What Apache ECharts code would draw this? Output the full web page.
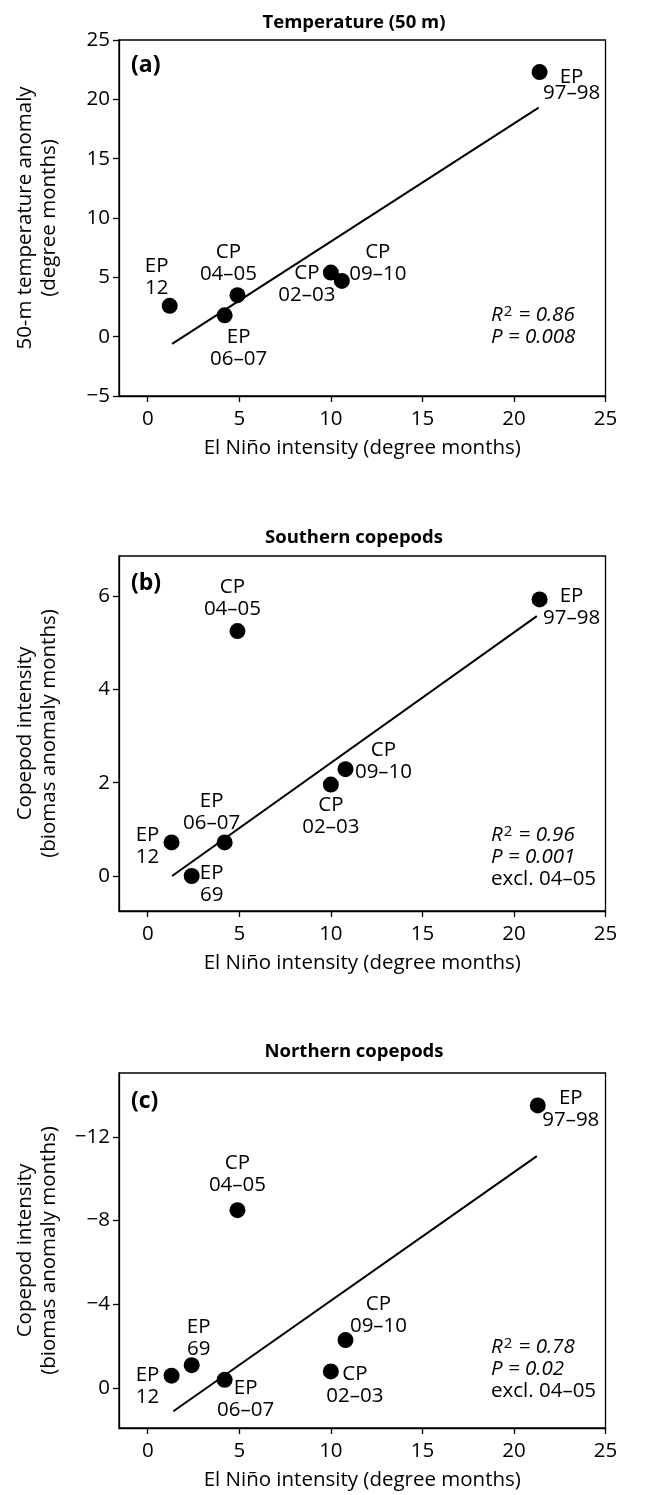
<!DOCTYPE html>
<html>
<head>
<meta charset="utf-8">
<script src="https://cdn.jsdelivr.net/npm/echarts@6/dist/echarts.min.js"></script>
<style>
html,body{margin:0;padding:0;background:#fff;}
#chart{width:646px;height:1495px;}
</style>
</head>
<body>
<div id="chart"></div>
<script>
// ---------- data ----------
const xTickValues = [0, 5, 10, 15, 20, 25];
const yTicksA = [-5, 0, 5, 10, 15, 20, 25];
const yTicksB = [0, 2, 4, 6];
const yTicksC = [-12, -8, -4, 0];

const labelsA = ['EP\n12', 'CP\n04–05', 'EP\n06–07', 'CP\n02–03', 'CP\n09–10', 'EP\n97–98'];
const xA = [1.2, 4.9, 4.2, 10.0, 10.6, 21.4];
const yA = [2.6, 3.5, 1.8, 5.4, 4.7, 22.3];
const fitXA = [1.33, 21.35];
const fitYA = [-0.6, 19.3];

const labelsB = ['EP\n12', 'EP\n69', 'EP\n06–07', 'CP\n04–05', 'CP\n02–03', 'CP\n09–10', 'EP\n97–98'];
const xB = [1.3, 2.4, 4.2, 4.9, 10.0, 10.8, 21.4];
const yB = [0.72, 0.0, 0.72, 5.25, 1.96, 2.29, 5.93];
const fitXB = [1.33, 21.25];
const fitYB = [0.0, 5.57];

const labelsC = ['EP\n12', 'EP\n69', 'EP\n06–07', 'CP\n04–05', 'CP\n02–03', 'CP\n09–10', 'EP\n97–98'];
const xC = [1.3, 2.4, 4.2, 4.9, 10.0, 10.8, 21.3];
const yC = [-0.6, -1.1, -0.4, -8.5, -0.8, -2.3, -13.5];
const fitXC = [1.4, 21.25];
const fitYC = [1.1, -11.08];

const titles = ['Temperature (50 m)', 'Southern copepods', 'Northern copepods'];
const panelTags = ['(a)', '(b)', '(c)'];
const yNames = ['50-m temperature anomaly\n(degree months)', 'Copepod intensity\n(biomas anomaly months)', 'Copepod intensity\n(biomas anomaly months)'];
const xName = 'El Niño intensity (degree months)';
const statsA = ['0.86', '0.008'];
const statsB = ['0.96', '0.001'];
const statsC = ['0.78', '0.02'];
const exclNote = 'excl. 04–05';

// ---------- layout / styling (not data) ----------
const FONT = '"Open Sans", "Noto Sans", sans-serif';
const FS = 20.5;
const offA = [[-13, -29], [-9, -32], [14, 33], [-24, 12], [36, -18], [32, 13]];
const lhA = [22, 22, 22, 22, 22, 16];
const offB = [[-24, 4], [20, 8], [-13, -30], [-5, -33], [0, 32], [38, -8], [32, 8]];
const offC = [[-24, 11], [7, -27], [21, 19], [0, -36], [24, 14], [33, -25], [33, 4]];
const grids = [
  {left: 119, top: 40, width: 486.5, height: 356},
  {left: 119, top: 556, width: 486.5, height: 355},
  {left: 119, top: 1073, width: 486.5, height: 355}
];
const yRanges = [
  {min: -5, max: 25, inverse: false, ticks: yTicksA},
  {min: -0.75, max: 6.86, inverse: false, ticks: yTicksB},
  {min: -15.05, max: 1.9, inverse: true, ticks: yTicksC}
];

const minus = v => String(v).replace('-', '\u2212');

const option = {
  animation: false,
  backgroundColor: '#fff',
  textStyle: {fontFamily: FONT, color: '#000'},
  grid: grids.map(g => Object.assign({show: true, borderColor: '#000', borderWidth: 1.3, backgroundColor: 'transparent', outerBoundsMode: 'none', containLabel: false}, g)),
  xAxis: grids.map((g, i) => ({
    type: 'value', gridIndex: i, min: -1.57, max: 25,
    name: xName, nameLocation: 'middle', nameGap: 42,
    nameTextStyle: {fontSize: FS, color: '#000', fontFamily: FONT},
    axisLine: {show: true, onZero: false, lineStyle: {color: '#000', width: 1.3}},
    axisTick: {show: true, length: 6, customValues: xTickValues, lineStyle: {color: '#000', width: 1.3}},
    axisLabel: {customValues: xTickValues, fontSize: FS, color: '#000', margin: 13, fontFamily: FONT, formatter: v => minus(v)},
    splitLine: {show: false}
  })),
  yAxis: yRanges.map((r, i) => ({
    type: 'value', gridIndex: i, min: r.min, max: r.max, inverse: r.inverse,
    name: yNames[i], nameLocation: 'middle', nameRotate: 90, nameGap: 58,
    nameTextStyle: {fontSize: FS, color: '#000', lineHeight: 24, fontFamily: FONT},
    axisLine: {show: true, onZero: false, lineStyle: {color: '#000', width: 1.3}},
    axisTick: {show: true, length: 6, customValues: r.ticks, lineStyle: {color: '#000', width: 1.3}},
    axisLabel: {customValues: r.ticks, fontSize: FS, color: '#000', margin: 9, fontFamily: FONT, formatter: v => minus(v)},
    splitLine: {show: false}
  })),
  series: [],
  graphic: []
};

function addPanel(i, xs, ys, labels, offs, lhs, fx, fy) {
  option.series.push({
    type: 'line', xAxisIndex: i, yAxisIndex: i, z: 2,
    data: fx.map((x, k) => [x, fy[k]]),
    symbol: 'none', lineStyle: {color: '#000', width: 2}, silent: true
  });
  option.series.push({
    type: 'scatter', xAxisIndex: i, yAxisIndex: i, z: 3,
    symbol: 'circle', symbolSize: 16,
    itemStyle: {color: '#000', opacity: 1},
    data: xs.map((x, k) => ({
      value: [x, ys[k]],
      label: {
        show: true, formatter: labels[k], position: 'inside', offset: offs[k],
        align: 'center', verticalAlign: 'middle',
        color: '#000', fontSize: FS, fontFamily: FONT, lineHeight: lhs ? lhs[k] : 22
      }
    }))
  });
}
addPanel(0, xA, yA, labelsA, offA, lhA, fitXA, fitYA);
addPanel(1, xB, yB, labelsB, offB, null, fitXB, fitYB);
addPanel(2, xC, yC, labelsC, offC, null, fitXC, fitYC);

// titles, panel tags, stats text
const titleY = [23, 538, 1052];
const tagY = [65, 583, 1101];
titles.forEach((t, i) => {
  option.graphic.push({type: 'text', x: 354, y: titleY[i], style: {text: t, fontFamily: FONT, fontWeight: 'bold', fontSize: 18.5, fill: '#000', align: 'center', verticalAlign: 'middle'}});
  option.graphic.push({type: 'text', x: 131, y: tagY[i], style: {text: panelTags[i], fontFamily: FONT, fontWeight: 'bold', fontSize: 23, fill: '#000', align: 'left', verticalAlign: 'middle'}});
});
const richStats = {
  i: {fontStyle: 'italic', fontSize: FS, fontFamily: FONT, fill: '#000', lineHeight: 22},
  s: {fontSize: 15, fontFamily: FONT, fill: '#000', lineHeight: 22, verticalAlign: 'top', padding: [0, 1, 7, 1]},
  n: {fontSize: FS, fontFamily: FONT, fill: '#000', lineHeight: 22}
};
function statText(st, excl) {
  let s = '{i|R}{s|2}{i| = ' + st[0] + '}\n{i|P = ' + st[1] + '}';
  if (excl) s += '\n{n|' + excl + '}';
  return s;
}
const statY = [326, 857, 1369.5];
[[statsA, null], [statsB, exclNote], [statsC, exclNote]].forEach((p, i) => {
  option.graphic.push({type: 'text', x: 491, y: statY[i], style: {text: statText(p[0], p[1]), rich: richStats, align: 'left', verticalAlign: 'middle', fontFamily: FONT, fontSize: FS, fill: '#000'}});
});

const chart = echarts.init(document.getElementById('chart'), null, {renderer: 'canvas'});
chart.setOption(option);
</script>
</body>
</html>
